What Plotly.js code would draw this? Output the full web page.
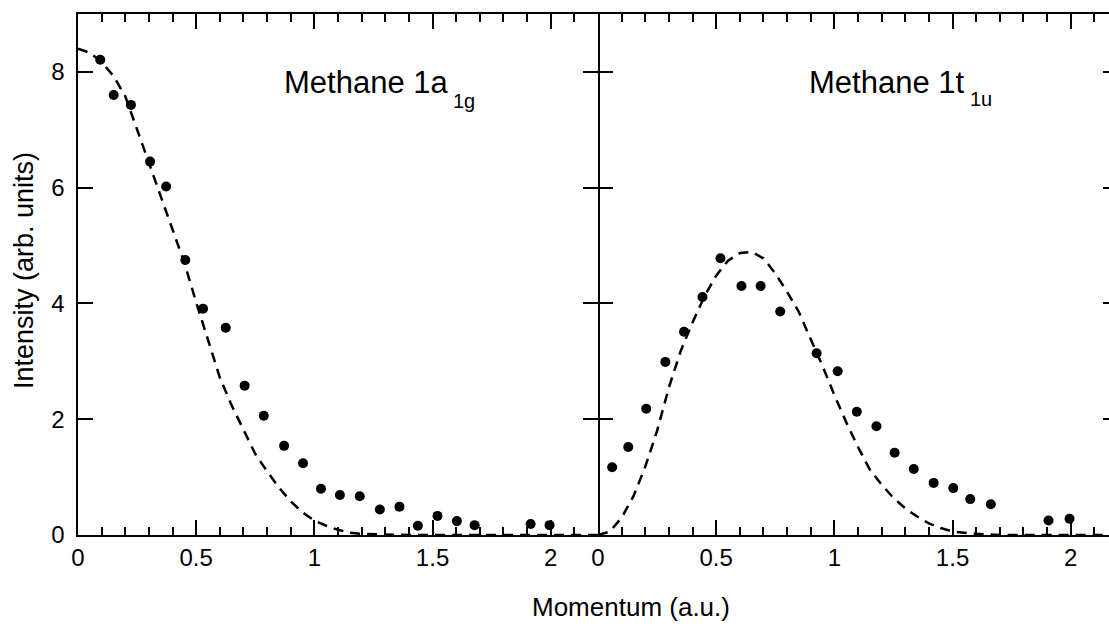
<!DOCTYPE html>
<html>
<head>
<meta charset="utf-8">
<script src="https://cdn.plot.ly/plotly-3.0.1.min.js"></script>
<style>
html, body { margin: 0; padding: 0; overflow: hidden; background: #fff; }
#chart { width: 1120px; height: 624px; }
</style>
</head>
<body>
<div id="chart"></div>
<script>
// ---- Data ----
// Methane 1a1g: experimental points
const a1gMomentum = [0.094, 0.151, 0.224, 0.305, 0.373, 0.454, 0.529, 0.625, 0.705, 0.786, 0.872, 0.952, 1.028, 1.108, 1.192, 1.277, 1.360, 1.438, 1.521, 1.603, 1.678, 1.915, 1.995];
const a1gIntensity = [8.21, 7.60, 7.43, 6.45, 6.02, 4.75, 3.91, 3.58, 2.58, 2.06, 1.54, 1.24, 0.80, 0.69, 0.67, 0.44, 0.49, 0.16, 0.33, 0.24, 0.17, 0.19, 0.17];
// Methane 1a1g: theory (dashed)
const a1gTheoryMomentum = [0, 0.05, 0.1, 0.15, 0.2, 0.25, 0.3, 0.35, 0.4, 0.45, 0.5, 0.55, 0.6, 0.65, 0.7, 0.75, 0.8, 0.85, 0.9, 0.95, 1.0, 1.05, 1.1, 1.15, 1.2, 1.3, 1.4, 1.6, 1.8, 2.0, 2.2];
const a1gTheoryIntensity = [8.40, 8.33, 8.17, 7.93, 7.58, 7.00, 6.42, 5.85, 5.27, 4.70, 4.02, 3.36, 2.72, 2.24, 1.82, 1.40, 1.10, 0.82, 0.58, 0.39, 0.25, 0.16, 0.09, 0.04, 0.02, 0.005, 0, 0, 0, 0, 0];

// Methane 1t1u: experimental points
const t1uMomentum = [0.060, 0.128, 0.204, 0.285, 0.364, 0.442, 0.518, 0.607, 0.688, 0.771, 0.925, 1.014, 1.095, 1.178, 1.255, 1.336, 1.420, 1.503, 1.575, 1.662, 1.906, 1.995];
const t1uIntensity = [1.17, 1.52, 2.18, 2.99, 3.51, 4.11, 4.78, 4.30, 4.30, 3.86, 3.14, 2.83, 2.13, 1.88, 1.42, 1.14, 0.90, 0.81, 0.62, 0.53, 0.25, 0.28];
// Methane 1t1u: theory (dashed)
const t1uTheoryMomentum = [0, 0.05, 0.1, 0.15, 0.2, 0.25, 0.3, 0.35, 0.4, 0.45, 0.5, 0.55, 0.6, 0.65, 0.7, 0.75, 0.8, 0.85, 0.9, 0.95, 1.0, 1.05, 1.1, 1.15, 1.2, 1.25, 1.3, 1.35, 1.4, 1.45, 1.5, 1.6, 1.7, 1.8, 2.0, 2.2];
const t1uTheoryIntensity = [0, 0.06, 0.30, 0.67, 1.18, 1.80, 2.55, 3.18, 3.67, 4.12, 4.48, 4.74, 4.87, 4.89, 4.78, 4.52, 4.20, 3.85, 3.38, 2.92, 2.42, 1.95, 1.52, 1.13, 0.87, 0.64, 0.46, 0.32, 0.20, 0.12, 0.06, 0.02, 0, 0, 0, 0];

// Text
const panelTitles = ["Methane 1a", "Methane 1t"];
const panelSubscripts = ["1g", "1u"];
const xAxisTitle = "Momentum (a.u.)";
const yAxisTitle = "Intensity (arb. units)";

// ---- Styling ----
const FONT = "Liberation Sans, Arial, Helvetica, sans-serif";
const dashStyle = {color: "black", width: 2.5, dash: "10px,7px"};
const markerStyle = {color: "black", size: 10, symbol: "circle"};

const traces = [
  {x: a1gTheoryMomentum, y: a1gTheoryIntensity, mode: "lines", line: dashStyle, xaxis: "x", yaxis: "y", showlegend: false},
  {x: a1gMomentum, y: a1gIntensity, mode: "markers", marker: markerStyle, xaxis: "x", yaxis: "y", showlegend: false},
  {x: t1uTheoryMomentum, y: t1uTheoryIntensity, mode: "lines", line: dashStyle, xaxis: "x2", yaxis: "y2", showlegend: false},
  {x: t1uMomentum, y: t1uIntensity, mode: "markers", marker: markerStyle, xaxis: "x2", yaxis: "y2", showlegend: false}
];

const W = 1120, H = 624;
const tickFont = {family: FONT, size: 24, color: "black"};

function xAxis(domain, anchor) {
  return {
    domain: domain, anchor: anchor, range: [0, 2.2],
    tick0: 0, dtick: 0.5, ticks: "inside", ticklen: 15, tickwidth: 2, tickcolor: "black",
    minor: {dtick: 0.1, ticks: "inside", ticklen: 8, tickwidth: 2, tickcolor: "black", showgrid: false},
    showline: true, linewidth: 2, linecolor: "black", mirror: "ticks",
    showgrid: false, zeroline: false, tickfont: tickFont
  };
}
function yAxis(domain, anchor, labels, line) {
  return {
    domain: domain, anchor: anchor, range: [0, 9],
    tick0: 0, dtick: 2, ticks: "inside", ticklen: 15, tickwidth: 2, tickcolor: "black",
    showline: line, linewidth: 2, linecolor: "black", mirror: "ticks",
    showgrid: false, zeroline: false, tickfont: tickFont, showticklabels: labels,
    ticksuffix: "\u00a0"
  };
}

const xd1 = [78 / W, 598 / W];
const xd2 = [598 / W, 1118 / W];
const yd = [(H - 535) / H, (H - 14) / H];

const annFont = {family: FONT, size: 31, color: "black"};
const subFont = {family: FONT, size: 20, color: "black"};

const layout = {
  width: W, height: H,
  margin: {l: 0, r: 0, t: 0, b: 0},
  paper_bgcolor: "white", plot_bgcolor: "white",
  showlegend: false,
  xaxis: xAxis(xd1, "y"),
  yaxis: yAxis(yd, "x", true, true),
  xaxis2: xAxis(xd2, "y2"),
  yaxis2: yAxis(yd, "x2", false, false),
  annotations: [
    {xref: "x", yref: "y", x: 0.865, y: 7.81, text: panelTitles[0], showarrow: false, xanchor: "left", yanchor: "middle", font: annFont},
    {xref: "x", yref: "y", x: 1.578, y: 7.50, text: panelSubscripts[0], showarrow: false, xanchor: "left", yanchor: "middle", font: subFont},
    {xref: "x2", yref: "y2", x: 0.885, y: 7.81, text: panelTitles[1], showarrow: false, xanchor: "left", yanchor: "middle", font: annFont},
    {xref: "x2", yref: "y2", x: 1.565, y: 7.53, text: panelSubscripts[1], showarrow: false, xanchor: "left", yanchor: "middle", font: subFont},
    {xref: "paper", yref: "paper", x: 630.7 / W, y: (H - 607) / H, text: xAxisTitle, showarrow: false, xanchor: "center", yanchor: "middle", font: {family: FONT, size: 26, color: "black"}},
    {xref: "paper", yref: "paper", x: 24 / W, y: (H - 271) / H, text: yAxisTitle, showarrow: false, textangle: -90, xanchor: "center", yanchor: "middle", font: {family: FONT, size: 27, color: "black"}}
  ]
};

Plotly.newPlot("chart", traces, layout, {displayModeBar: false, staticPlot: true});
</script>
</body>
</html>
